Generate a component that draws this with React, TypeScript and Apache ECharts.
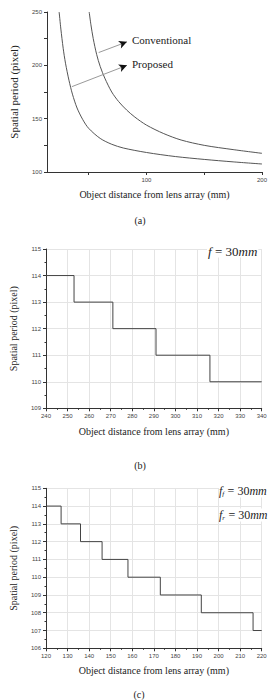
import React, { useEffect, useRef } from "react";
import * as echarts from "echarts";

// Panel (a): spatial period vs object distance
const proposedX = [24.5, 26, 28, 30, 33, 36, 40, 45, 50, 60, 70, 80, 100, 125, 150, 175, 200];
const proposedY = [250, 234, 216, 202, 186, 173, 160, 149, 141, 131.5, 126, 122.5, 118.3, 114.5, 111.8, 109.5, 107.5];
const conventionalX = [50.5, 52, 54, 57, 60, 64, 70, 76, 83, 90, 100, 115, 130, 150, 175, 200];
const conventionalY = [250, 238, 225, 210, 199, 188, 175, 166, 158, 151.5, 144, 136, 130, 125, 121, 117.5];
const aXTicks = [50, 100, 150, 200];
const aXLabels = [100, 200];
const aYTicks = [100, 125, 150, 175, 200, 225, 250];
const aYLabels = [100, 150, 200, 250];

// Panel (b): f = 30mm
const bX = [240, 253, 271, 291, 316, 340];
const bY = [114, 113, 112, 111, 110, 110];

// Panel (c): ff = fr = 30mm
const cX = [120, 127, 136, 146, 158, 173, 192, 216, 220];
const cY = [114, 113, 112, 111, 110, 109, 108, 107, 107];

// annotation arrows (data coordinates in panel a)
const convArrow = [[58.7, 212], [83.2, 222]];
const propArrow = [[35.5, 180], [83.2, 200]];

const zip = (xs: number[], ys: number[]) => xs.map((x, i) => [x, ys[i]]);

const SERIF = "Liberation Serif";
const SANS = "Liberation Sans";
const AXC = "#333";

function axisBase(extra: any) {
  return {
    type: "value",
    axisLine: { show: true, onZero: false, lineStyle: { color: AXC, width: 1 } },
    axisTick: { show: true, length: 3, lineStyle: { color: AXC } },
    axisLabel: { fontFamily: SANS, fontSize: 6, color: "#444", margin: 5 },
    splitLine: { show: false },
    nameTextStyle: { fontFamily: SERIF, fontSize: 10, color: "#222" },
    ...extra,
  };
}

export default function App() {
  const ref = useRef<HTMLDivElement>(null);
  useEffect(() => {
    if (!ref.current) return;
    const chart = echarts.init(ref.current, undefined, { renderer: "svg" });
    const grid = [
      { left: 45, top: 12, width: 217, height: 160 },
      { left: 45.7, top: 249, width: 216, height: 159.3 },
      { left: 45.7, top: 488.3, width: 216, height: 160 },
    ];
    const stepSplit = { show: true, lineStyle: { color: "#e4e4e4", width: 1 } };
    const minor = { show: true, splitNumber: 2, length: 1.5, lineStyle: { color: AXC } };
    const xTitle = "Object distance from lens array (mm)";
    const yTitle = "Spatial period (pixel)";
    const arrowHead = (p: number[], rot: number) => ({
      coord: p,
      symbol: "arrow",
      symbolSize: [6, 8],
      symbolRotate: rot,
      itemStyle: { color: "#111" },
      label: { show: false },
    });
    const richF = (size: number) => ({
      i: { fontFamily: SERIF, fontStyle: "italic", fontSize: size, fill: "#222" },
      s: { fontFamily: SERIF, fontStyle: "italic", fontSize: 7, fill: "#222", padding: [6, 0, 0, 0] },
      n: { fontFamily: SERIF, fontSize: size, fill: "#222" },
    });
    chart.setOption({
      animation: false,
      grid,
      xAxis: [
        axisBase({
          gridIndex: 0, min: 14, max: 200,
          axisTick: { show: true, length: 3, customValues: aXTicks, lineStyle: { color: AXC } },
          axisLabel: { fontFamily: SANS, fontSize: 6, color: "#444", margin: 5, customValues: aXLabels },
          name: xTitle, nameLocation: "middle", nameGap: 17,
          nameTextStyle: { fontFamily: SERIF, fontSize: 10, color: "#222" },
        }),
        axisBase({
          gridIndex: 1, min: 240, max: 340, interval: 10,
          minorTick: minor, splitLine: stepSplit,
          name: xTitle, nameLocation: "middle", nameGap: 18,
        }),
        axisBase({
          gridIndex: 2, min: 120, max: 220, interval: 10,
          minorTick: minor, splitLine: stepSplit,
          name: xTitle, nameLocation: "middle", nameGap: 17.5,
        }),
      ],
      yAxis: [
        axisBase({
          gridIndex: 0, min: 100, max: 250,
          axisTick: { show: true, length: 3, customValues: aYTicks, lineStyle: { color: AXC } },
          axisLabel: { fontFamily: SANS, fontSize: 6, color: "#444", margin: 5, customValues: aYLabels },
          name: yTitle, nameLocation: "middle", nameGap: 28,
          nameTextStyle: { fontFamily: SERIF, fontSize: 11, color: "#222" },
        }),
        axisBase({
          gridIndex: 1, min: 109, max: 115, interval: 1,
          minorTick: minor, splitLine: stepSplit,
          name: yTitle, nameLocation: "middle", nameGap: 28,
        }),
        axisBase({
          gridIndex: 2, min: 106, max: 115, interval: 1,
          minorTick: minor, splitLine: stepSplit,
          name: yTitle, nameLocation: "middle", nameGap: 28,
        }),
      ],
      series: [
        {
          type: "line", xAxisIndex: 0, yAxisIndex: 0, data: zip(proposedX, proposedY),
          smooth: 0.3, showSymbol: false, lineStyle: { color: "#555", width: 1 },
          markLine: {
            silent: true, symbol: ["none", "none"],
            lineStyle: { color: "#9a9a9a", width: 1, type: "solid" },
            label: { show: false },
            data: [
              [{ coord: convArrow[0] }, { coord: convArrow[1] }],
              [{ coord: propArrow[0] }, { coord: propArrow[1] }],
            ],
          },
          markPoint: {
            silent: true,
            data: [arrowHead(convArrow[1], -69.5), arrowHead(propArrow[1], -69)],
          },
        },
        {
          type: "line", xAxisIndex: 0, yAxisIndex: 0, data: zip(conventionalX, conventionalY),
          smooth: 0.3, showSymbol: false, lineStyle: { color: "#555", width: 1 },
        },
        {
          type: "line", xAxisIndex: 1, yAxisIndex: 1, data: zip(bX, bY),
          step: "end", showSymbol: false, lineStyle: { color: "#444", width: 1 },
        },
        {
          type: "line", xAxisIndex: 2, yAxisIndex: 2, data: zip(cX, cY),
          step: "end", showSymbol: false, lineStyle: { color: "#444", width: 1 },
        },
      ],
      graphic: [
        { type: "text", left: 132, top: 34, style: { text: "Conventional", font: `11px "${SERIF}"`, fill: "#222" } },
        { type: "text", left: 132, top: 58, style: { text: "Proposed", font: `11px "${SERIF}"`, fill: "#222" } },
        { type: "text", x: 140, y: 220, style: { text: "(a)", font: `10px "${SERIF}"`, fill: "#222", align: "center", verticalAlign: "middle" } },
        {
          type: "text", x: 207, y: 251, z: 100,
          style: {
            rich: richF(13),
            text: "{i|f} {n|= 30}{i|mm}",
            verticalAlign: "middle",
            backgroundColor: "#fff",
            padding: [0, 1],
          },
        },
        { type: "text", x: 140, y: 465, style: { text: "(b)", font: `10px "${SERIF}"`, fill: "#222", align: "center", verticalAlign: "middle" } },
        {
          type: "text", x: 219, y: 491, z: 100,
          style: {
            rich: richF(12),
            text: "{i|f}{s|f} {n|= 30}{i|mm}",
            verticalAlign: "middle",
            backgroundColor: "#fff",
          },
        },
        {
          type: "text", x: 219, y: 515, z: 100,
          style: {
            rich: richF(12),
            text: "{i|f}{s|r} {n|= 30}{i|mm}",
            verticalAlign: "middle",
            backgroundColor: "#fff",
          },
        },
        { type: "text", x: 139, y: 694, style: { text: "(c)", font: `10px "${SERIF}"`, fill: "#222", align: "center", verticalAlign: "middle" } },
      ],
    });
    return () => chart.dispose();
  }, []);
  return (
    <div
      ref={ref}
      style={{ position: "fixed", left: 0, top: 0, width: 274, height: 700, background: "#fff" }}
    />
  );
}
